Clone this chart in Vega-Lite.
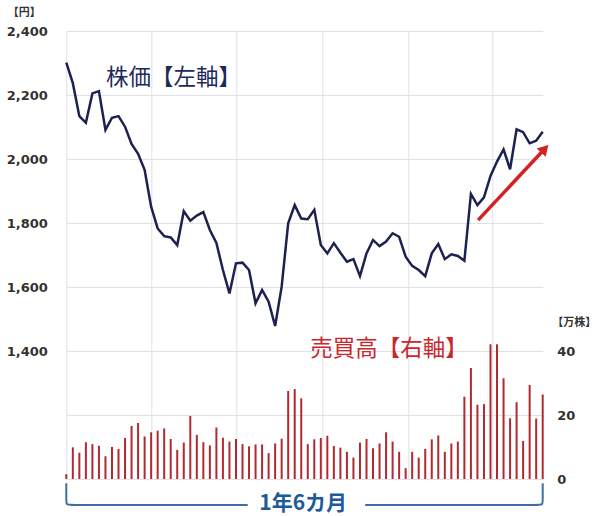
{
  "$schema": "https://vega.github.io/schema/vega-lite/v6.json",
  "width": 476.4,
  "height": 448,
  "autosize": "none",
  "padding": {"left": 66.3, "top": 31, "right": 57.3, "bottom": 37},
  "background": "white",
  "config": {
    "view": {"stroke": null},
    "axis": {"labelFont": "DejaVu Sans", "labelFontWeight": "bold", "labelFontSize": 13, "labelColor": "#333333", "gridColor": "#e0e0e8", "gridWidth": 1, "domain": false, "ticks": false, "tickSize": 0}
  },
  "datasets": {
    "main": [
      {"i":0,"price":2301,"vol":1.5},{"i":1,"price":2237,"vol":9.9},{"i":2,"price":2134,"vol":8.2},{"i":3,"price":2113,"vol":11.5},
      {"i":4,"price":2205,"vol":10.9},{"i":5,"price":2212,"vol":10.4},{"i":6,"price":2091,"vol":7.1},{"i":7,"price":2129,"vol":10.0},
      {"i":8,"price":2134,"vol":9.4},{"i":9,"price":2101,"vol":12.8},{"i":10,"price":2047,"vol":16.6},{"i":11,"price":2016,"vol":17.5},
      {"i":12,"price":1966,"vol":13.3},{"i":13,"price":1851,"vol":14.6},{"i":14,"price":1783,"vol":15.1},{"i":15,"price":1759,"vol":15.8},
      {"i":16,"price":1755,"vol":12.5},{"i":17,"price":1731,"vol":9.1},{"i":18,"price":1837,"vol":11.4},{"i":19,"price":1807,"vol":19.7},
      {"i":20,"price":1823,"vol":13.8},{"i":21,"price":1834,"vol":11.5},{"i":22,"price":1778,"vol":10.5},{"i":23,"price":1738,"vol":16.1},
      {"i":24,"price":1653,"vol":12.9},{"i":25,"price":1580,"vol":11.7},{"i":26,"price":1674,"vol":12.5},{"i":27,"price":1676,"vol":10.9},
      {"i":28,"price":1653,"vol":10.2},{"i":29,"price":1549,"vol":10.8},{"i":30,"price":1591,"vol":10.8},{"i":31,"price":1554,"vol":8.1},
      {"i":32,"price":1478,"vol":11.1},{"i":33,"price":1601,"vol":12.6},{"i":34,"price":1799,"vol":27.5},{"i":35,"price":1856,"vol":28.1},
      {"i":36,"price":1814,"vol":25.2},{"i":37,"price":1812,"vol":10.9},{"i":38,"price":1841,"vol":12.4},{"i":39,"price":1731,"vol":12.8},
      {"i":40,"price":1705,"vol":13.5},{"i":41,"price":1737,"vol":10.3},{"i":42,"price":1707,"vol":9.8},{"i":43,"price":1679,"vol":8.5},
      {"i":44,"price":1687,"vol":6.7},{"i":45,"price":1634,"vol":11.4},{"i":46,"price":1705,"vol":12.5},{"i":47,"price":1747,"vol":9.6},
      {"i":48,"price":1728,"vol":11.1},{"i":49,"price":1742,"vol":14.6},{"i":50,"price":1768,"vol":11.7},{"i":51,"price":1757,"vol":8.5},
      {"i":52,"price":1695,"vol":3.4},{"i":53,"price":1666,"vol":8.5},{"i":54,"price":1653,"vol":6.7},{"i":55,"price":1634,"vol":9.4},
      {"i":56,"price":1705,"vol":12.4},{"i":57,"price":1734,"vol":13.6},{"i":58,"price":1687,"vol":8.5},{"i":59,"price":1702,"vol":11.1},
      {"i":60,"price":1697,"vol":11.7},{"i":61,"price":1682,"vol":25.7},{"i":62,"price":1891,"vol":34.7},{"i":63,"price":1856,"vol":23.2},
      {"i":64,"price":1880,"vol":23.4},{"i":65,"price":1947,"vol":42.1},{"i":66,"price":1992,"vol":42.1},{"i":67,"price":2030,"vol":31.5},
      {"i":68,"price":1968,"vol":19.0},{"i":69,"price":2093,"vol":24.0},{"i":70,"price":2084,"vol":11.9},{"i":71,"price":2049,"vol":29.4},
      {"i":72,"price":2057,"vol":18.9},{"i":73,"price":2085,"vol":26.4}
    ],
    "bracket": [
      {"seg":"L","o":0,"i":0,"p":987},{"seg":"L","o":1,"i":0,"p":935},{"seg":"L","o":2,"i":0,"p":918.75},{"seg":"L","o":3,"i":0.7,"p":918.75},{"seg":"L","o":4,"i":27.8,"p":918.75},
      {"seg":"R","o":0,"i":45.8,"p":918.75},{"seg":"R","o":1,"i":72.3,"p":918.75},{"seg":"R","o":2,"i":73,"p":918.75},{"seg":"R","o":3,"i":73,"p":935},{"seg":"R","o":4,"i":73,"p":987}
    ]
  },
  "layer": [
    {
      "data": {"name": "main"},
      "mark": {"type": "bar", "size": 2, "color": "#b02a30"},
      "encoding": {
        "x": {"field": "i", "type": "quantitative", "scale": {"domain": [0, 73], "nice": false, "zero": false, "padding": 0},
              "axis": {"values": [0, 12.95, 26.05, 39.2, 52.4, 65.35], "labels": false, "ticks": false, "domain": false, "title": null, "grid": true}},
        "y": {"field": "vol", "type": "quantitative", "scale": {"domain": [0, 140], "nice": false},
              "axis": {"orient": "right", "values": [0, 20, 40], "grid": false, "labelPadding": 14, "labelAlign": "left",
                       "title": "【万株】", "titleAngle": 0, "titleX": 9, "titleY": 291, "titleAlign": "left", "titleBaseline": "middle",
                       "titleFont": "Noto Sans CJK JP", "titleFontSize": 11, "titleFontWeight": "bold", "titleColor": "#333333"}}
      }
    },
    {
      "layer": [
        {
          "data": {"name": "main"},
          "mark": {"type": "line", "color": "#1b2250", "strokeWidth": 2.5, "strokeJoin": "miter"},
          "encoding": {
            "x": {"field": "i", "type": "quantitative", "scale": {"domain": [0, 73], "nice": false, "zero": false, "padding": 0}},
            "y": {"field": "price", "type": "quantitative", "scale": {"domain": [1000, 2400], "nice": false, "zero": false},
                  "axis": {"orient": "left", "values": [1000, 1200, 1400, 1600, 1800, 2000, 2200, 2400], "grid": true, "labelPadding": 19,
                           "labelExpr": "datum.value >= 1400 ? format(datum.value, ',') : ''",
                           "title": "【円】", "titleAngle": 0, "titleX": -59, "titleY": -19, "titleAlign": "left", "titleBaseline": "middle",
                           "titleFont": "Noto Sans CJK JP", "titleFontSize": 11, "titleFontWeight": "bold", "titleColor": "#333333"}}
          }
        },
        {
          "data": {"name": "bracket"},
          "mark": {"type": "line", "color": "#3d6fa6", "strokeWidth": 2, "interpolate": "basis"},
          "encoding": {
            "x": {"field": "i", "type": "quantitative"},
            "y": {"field": "p", "type": "quantitative"},
            "detail": {"field": "seg"},
            "order": {"field": "o"}
          }
        },
        {
          "data": {"values": [{}]},
          "mark": {"type": "rule", "color": "#d42222", "strokeWidth": 3.5},
          "encoding": {
            "x": {"datum": 63.1, "type": "quantitative"},
            "y": {"datum": 1809, "type": "quantitative"},
            "x2": {"datum": 73.0},
            "y2": {"datum": 2025}
          }
        },
        {
          "data": {"values": [{}]},
          "mark": {"type": "point", "shape": "triangle-up", "filled": true, "color": "#d42222", "opacity": 1, "size": 150, "angle": 43},
          "encoding": {
            "x": {"datum": 73.32, "type": "quantitative"},
            "y": {"datum": 2032, "type": "quantitative"}
          }
        },
        {
          "data": {"values": [{"t": "株価【左軸】"}]},
          "mark": {"type": "text", "align": "left", "baseline": "middle", "font": "Noto Sans CJK JP", "fontSize": 22.5, "color": "#1c2a5a"},
          "encoding": {
            "x": {"datum": 6.1, "type": "quantitative"},
            "y": {"datum": 2253, "type": "quantitative"},
            "text": {"field": "t"}
          }
        },
        {
          "data": {"values": [{"t": "売買高【右軸】"}]},
          "mark": {"type": "text", "align": "left", "baseline": "middle", "font": "Noto Sans CJK JP", "fontSize": 22.5, "color": "#c8282d"},
          "encoding": {
            "x": {"datum": 37.4, "type": "quantitative"},
            "y": {"datum": 1406, "type": "quantitative"},
            "text": {"field": "t"}
          }
        },
        {
          "data": {"values": [{"t": "1年6カ月"}]},
          "mark": {"type": "text", "align": "center", "baseline": "middle", "font": "Noto Sans CJK JP", "fontSize": 21, "fontWeight": "bold", "color": "#1d5a99"},
          "encoding": {
            "x": {"datum": 36.3, "type": "quantitative"},
            "y": {"datum": 922, "type": "quantitative"},
            "text": {"field": "t"}
          }
        }
      ]
    }
  ],
  "resolve": {"scale": {"y": "independent"}, "axis": {"y": "independent"}}
}
